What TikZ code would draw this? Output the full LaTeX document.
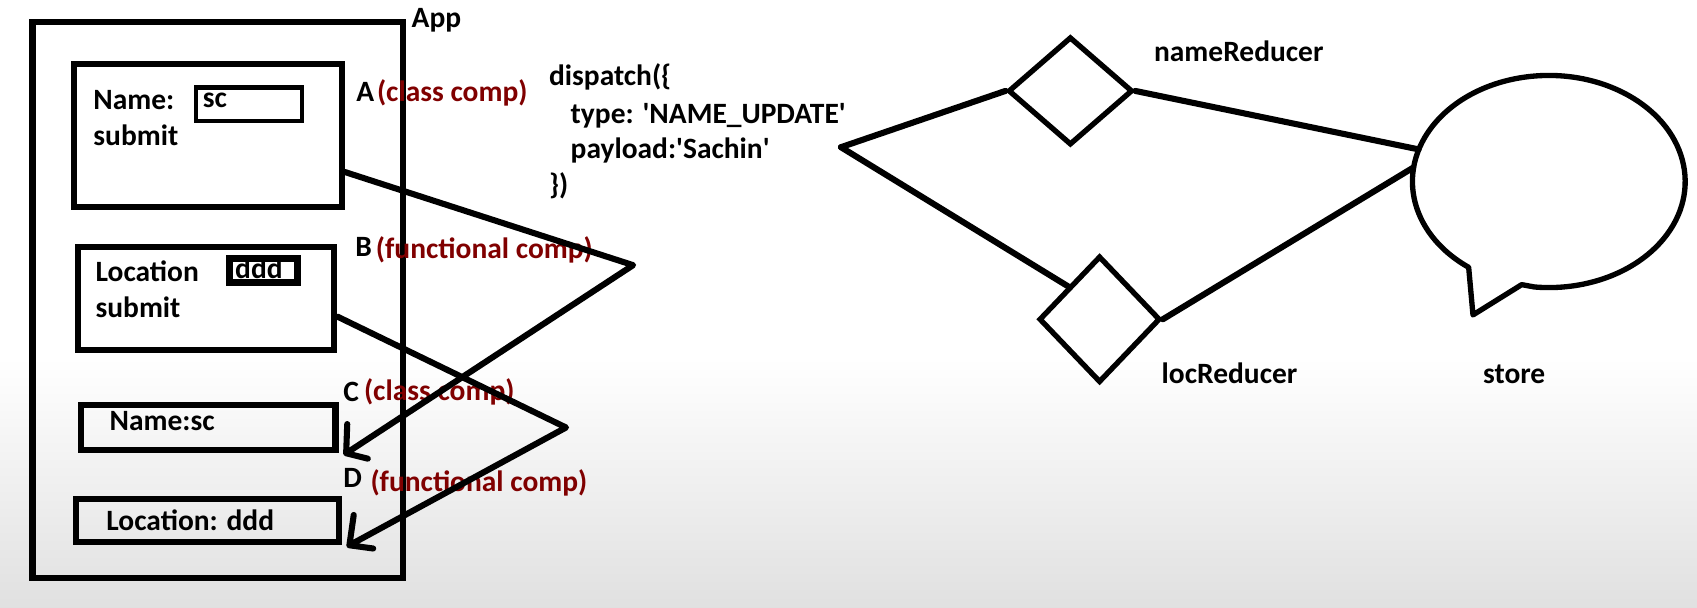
\documentclass[tikz,border=0pt]{standalone}
\usepackage{fontspec}
\setmainfont{Carlito}
\usetikzlibrary{shapes.geometric,fit}
\definecolor{compred}{RGB}{128,0,0}
\tikzset{
  comp/.style={draw, line width=3.2pt, inner sep=0pt},
  field/.style={draw, line width=2.4pt, inner sep=0pt},
  lbl/.style={font=\fontsize{15.5}{19}\selectfont\bfseries, anchor=base west, inner sep=0pt},
  kind/.style={lbl, text=compred},
  wire/.style={line width=3.2pt, line cap=round, line join=round},
  reducer/.style={diamond, draw, line width=2.8pt, inner sep=0pt}
}

\begin{document}
\begin{tikzpicture}[x=0.02cm,y=-0.02cm]
\useasboundingbox (0,0) rectangle (1568,561);
\shade[top color=white, bottom color=black!12] (0,330) rectangle (1568,561);

\node[comp, fit={(30,20) (372,534)}] (app) {};
\draw (380,25) node[lbl] (appLbl) {App};

  \node[comp, fit={(68,59) (316,191)}] (boxA) {};
  \node[field, fit={(181,81) (279,112)}] (scField) {};
  \draw (86,101) node[lbl] (nameA) {Name:};
  \draw (187,99) node[lbl] (scA) {sc};
  \draw (86,134) node[lbl] (submitA) {submit};
  \draw (329,94) node[lbl] (markA) {A};
  \draw (348,94) node[kind] (kindA) {(class comp)};

  \node[comp, fit={(72,228) (309,323)}] (boxB) {};
  \draw (88,260) node[lbl] (locB) {Location};
  \draw (217,257) node[lbl] (dddB) {ddd};
  \node[draw, line width=4pt, inner sep=0pt, fit={(212,239) (275,261)}] (dddField) {};
  \draw (88,293) node[lbl] (submitB) {submit};
  \draw (328,237) node[lbl] (markB) {B};
  \draw (347,239) node[kind] (kindB) {(functional comp)};

  \node[comp, fit={(75,374) (310,416)}] (boxC) {};
  \draw (101,398) node[lbl] (nameC) {Name:sc};
  \draw (317,371) node[lbl] (markC) {C};
  \draw (336,370) node[kind] (kindC) {(class comp)};

  \node[comp, fit={(70,461) (313,501)}] (boxD) {};
  \draw (98,490) node[lbl] (locD) {Location: ddd};
  \draw (317,450) node[lbl] (markD) {D};
  \draw (342,454) node[kind] (kindD) {(functional comp)};

\coordinate (apexA) at (585,245);
\coordinate (apexB) at (523,395);
  \draw[wire] (boxA.-15) -- (apexA) -- ([xshift=4pt]boxC.south east) -- ++(20,5)
              ([xshift=4pt]boxC.south east) -- ++(1,-27);
  \draw[wire] (boxB.-8) -- (apexB) -- ([xshift=4pt]boxD.south east) -- ++(22,3)
              ([xshift=4pt]boxD.south east) -- ++(4,-28);

\draw (507,79) node[lbl] (dispL) {dispatch(\{};
  \draw (527,114) node[lbl] (typeL) {type: \textquotesingle NAME\_UPDATE\textquotesingle};
  \draw (527,146) node[lbl] (payL) {payload:\textquotesingle Sachin\textquotesingle};
\draw (507,180) node[lbl] (closeL) {\})};

\coordinate (disp) at (777,136);
\node[reducer, minimum width=2.3cm, minimum height=2cm] (nameRed) at (989,84) {};
\node[reducer, minimum width=2.24cm, minimum height=2.34cm] (locRed) at (1016,295) {};
\node[ellipse, minimum width=5.04cm, minimum height=3.92cm, inner sep=0pt] (store) at (1431,168) {};
  \draw[wire, line width=2.8pt] (1357,247) arc[start angle=126, end angle=456, x radius=126, y radius=98]
    -- (1406,263) -- (1361,291) -- cycle;

  \draw (1066,57) node[lbl] (nameRedLbl) {nameReducer};
  \draw (1073,354) node[lbl] (locRedLbl) {locReducer};
  \draw (1370,354) node[lbl] (storeLbl) {store};

     \path[wire] (disp) edge (nameRed.west);
     \path[wire] (disp) edge (locRed.north west);
     \path[wire] (nameRed.east) edge (store.166);
     \path[wire] (locRed.east) edge (store.174);

\end{tikzpicture}
\end{document}
